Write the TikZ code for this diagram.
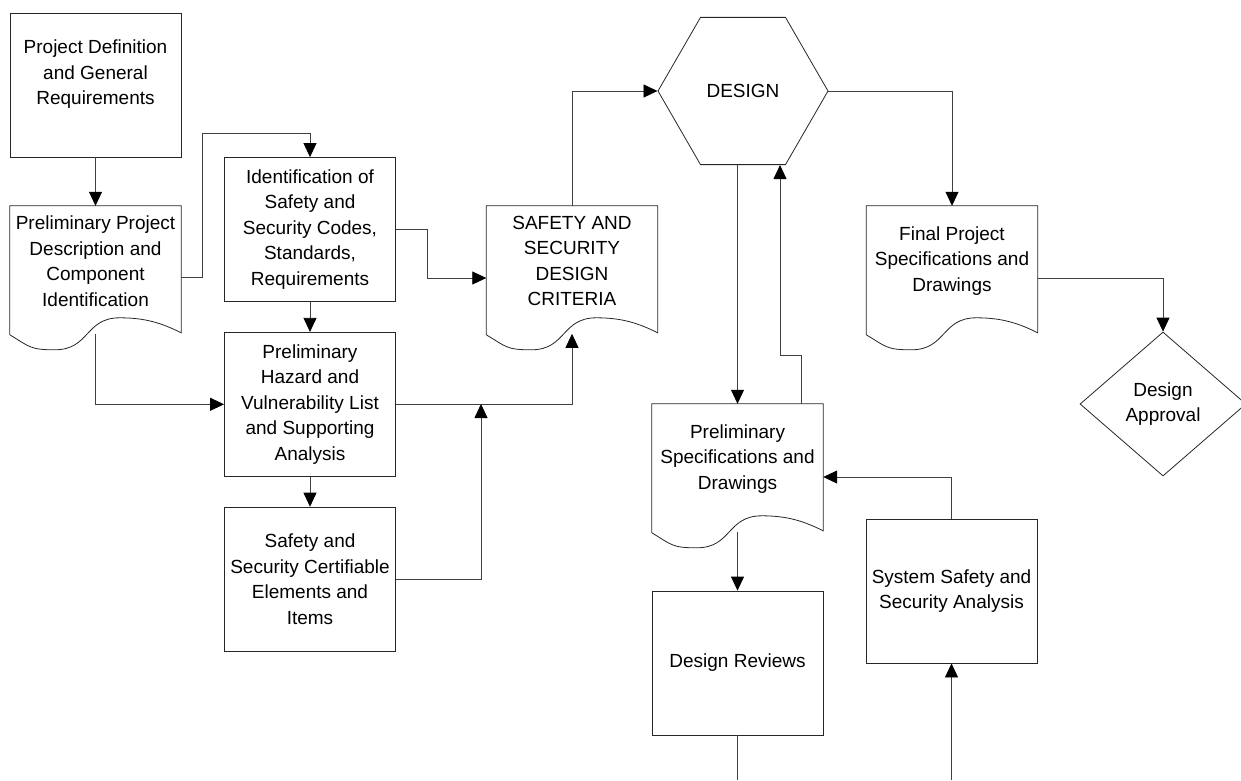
\documentclass[tikz,border=0pt]{standalone}
\usepackage{fontspec}
\setmainfont{Liberation Sans}
\usepackage{tikz}
\usetikzlibrary{arrows.meta,positioning,calc,shapes.geometric}

\begin{document}
\begin{tikzpicture}[
  x=1pt,y=-1pt,
  font=\fontsize{19}{25.5}\selectfont,
  node distance=30pt,
  box/.style={draw=black!85,line width=0.8pt,align=center,
    minimum width=171pt,minimum height=144pt,inner sep=2pt},
  docbox/.style={align=center,minimum width=171pt,minimum height=110pt,inner sep=2pt},
  hexa/.style={draw=black!85,line width=0.8pt,regular polygon,regular polygon sides=6,
    minimum size=170pt,inner sep=0pt},
  decision/.style={draw=black!85,line width=0.8pt,diamond,align=center,
    minimum width=166pt,minimum height=144pt,inner sep=0pt},
  arr/.style={-{Triangle[length=14pt,width=13pt,black]},black!75,line width=0.8pt}
]
\useasboundingbox (0,0) rectangle (1241,780);
% Definition column
\node[box] (projdef) at (95.5,85) {Project Definition\\and General\\Requirements\\~};
\node[docbox] (prelim) at (95.5,261) {Preliminary Project\\Description and\\Component\\Identification};
\node[box] (idcodes) at (310,229.5) {Identification of\\Safety and\\Security Codes,\\Standards,\\Requirements};
\node[box,below=of idcodes] (hazard) {Preliminary\\Hazard and\\Vulnerability List\\and Supporting\\Analysis};
\node[box,below=of hazard] (certif) {Safety and\\Security Certifiable\\Elements and\\Items};
\node[docbox] (criteria) at (572,261) {SAFETY AND\\SECURITY\\DESIGN\\CRITERIA};
% Design loop
\node[hexa] (design) at (743,91) {DESIGN};
\node[docbox] (prelspec) at (737.5,459) {Preliminary\\Specifications and\\Drawings};
\node[box] (reviews) at (737.5,663) {Design Reviews};
\node[box] (sysanal) at (951.5,591) {System Safety and\\Security Analysis};
\node[docbox] (finalspec) at (952,261) {Final Project\\Specifications and\\Drawings};
\node[decision] (approval) at (1163,404) {Design\\Approval};
% document outlines
\foreach \n in {prelim,criteria,prelspec,finalspec}{
  \draw[black!85,line width=0.8pt] ($(\n.north west)+(0,129)$) -- (\n.north west)
    -- (\n.north east) -- ($(\n.north east)+(0,127)$)
    .. controls +(-20,-10) and +(25,0) .. ($(\n.north west)+(110,112)$)
    .. controls +(-35,0) and +(35,0) .. ($(\n.north west)+(45,144)$)
    .. controls +(-25,0) and +(20,12) .. ($(\n.north west)+(0,129)$);
  \coordinate (\n-bot) at ($(\n.north)+(0,128)$);
}
\coordinate (join) at (481,404);
\coordinate (revout) at (737.5,780);
\coordinate (sysin) at (951.5,780);
% connectors
\draw[arr] (projdef) -- (prelim);
\draw[arr] ([yshift=-16pt]prelim.east) -| ++(21,-144) -| (idcodes.north);
\draw[arr] (prelim-bot) |- (hazard.west);
\draw[arr] (idcodes) -- (hazard);
\draw[arr] (hazard) -- (certif);
\draw[arr] (idcodes.east) -- ++(31,0) |- ([yshift=-17pt]criteria.west);
\draw[arr] (hazard.east) -| (criteria-bot);
\draw[arr] (certif.east) -| (join);
\draw[arr] (criteria.north) |- (design.west);
\draw[arr] (design.south -| prelspec.north) -- (prelspec.north);
\draw[arr] ([xshift=64pt]prelspec.north) -- ++(0,-48) -| ([xshift=37pt]design.south);
\draw[arr] (prelspec-bot) -- (reviews);
\draw[black!75,line width=0.8pt] (reviews) -- (revout);
\draw[arr] (sysin) -- (sysanal);
\draw[arr] (sysanal.north) |- ([yshift=-18pt]prelspec.east);
\draw[arr] (design.east) -| (finalspec.north);
\draw[arr] ([yshift=-17pt]finalspec.east) -| (approval.north);
\end{tikzpicture}
\end{document}
